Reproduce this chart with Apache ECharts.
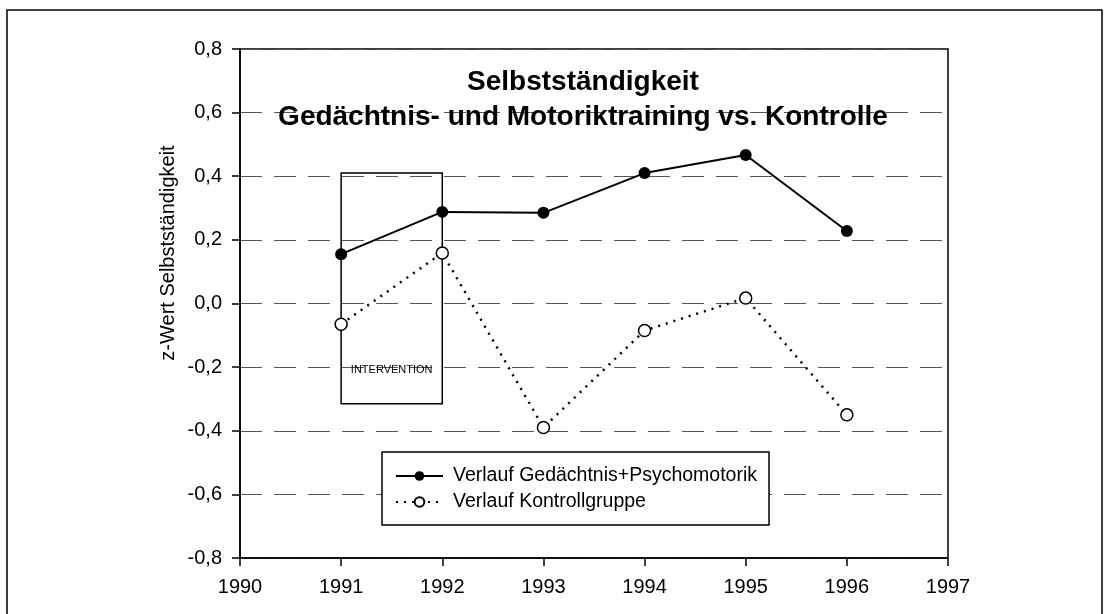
<!DOCTYPE html>
<html>
<head>
<meta charset="utf-8">
<script src="https://cdn.jsdelivr.net/npm/echarts@6/dist/echarts.min.js"></script>
<style>
html,body{margin:0;padding:0;background:#fff;}
#chart{width:1108px;height:614px;}
</style>
</head>
<body>
<div id="chart"></div>
<script>
// ---- data ----
var years = [1991, 1992, 1993, 1994, 1995, 1996];
var trainingValues = [0.155, 0.288, 0.285, 0.41, 0.467, 0.228];
var controlValues = [-0.065, 0.159, -0.39, -0.085, 0.017, -0.35];
var seriesNames = ['Verlauf Gedächtnis+Psychomotorik', 'Verlauf Kontrollgruppe'];
var titleLines = ['Selbstständigkeit', 'Gedächtnis- und Motoriktraining vs. Kontrolle'];
var yAxisTitle = 'z-Wert Selbstständigkeit';
var interventionX = [1991, 1992];
var interventionY = [0.41, -0.315];
var interventionLabel = 'INTERVENTION';
var xRange = [1990, 1997];
var yRange = [-0.8, 0.8];

var FONT = '"Liberation Sans", Arial, sans-serif';

function pairs(xs, ys) { return xs.map(function (x, i) { return [x, ys[i]]; }); }

var chart = echarts.init(document.getElementById('chart'), null, {renderer: 'canvas'});
chart.setOption({
  backgroundColor: '#fff',
  animation: false,
  textStyle: {fontFamily: FONT, color: '#000'},
  title: {
    text: titleLines.join('\n'),
    left: 578,
    top: 60,
    textAlign: 'center',
    textStyle: {fontFamily: FONT, fontSize: 28, fontWeight: 'bold', color: '#000', lineHeight: 35}
  },
  legend: {
    orient: 'vertical',
    left: 382,
    top: 452,
    padding: [14, 12, 13, 13],
    itemGap: 6,
    itemWidth: 47,
    itemHeight: 12,
    borderColor: '#000',
    borderWidth: 1.5,
    backgroundColor: '#fff',
    textStyle: {fontFamily: FONT, fontSize: 19.5, color: '#000', padding: [0, 0, 0, 5]},
    data: seriesNames
  },
  grid: {
    left: 240, right: 160, top: 49, bottom: 56,
    show: true, borderColor: '#000', borderWidth: 1.5, backgroundColor: 'transparent'
  },
  xAxis: {
    type: 'value',
    min: xRange[0], max: xRange[1], interval: 1,
    axisLine: {onZero: false, lineStyle: {color: '#000', width: 1.5}},
    axisTick: {show: true, inside: false, length: 8, lineStyle: {color: '#000', width: 1.5}},
    axisLabel: {
      fontFamily: FONT, fontSize: 20, color: '#000', margin: 19,
      formatter: function (v) { return String(v); }
    },
    splitLine: {show: false}
  },
  yAxis: {
    type: 'value',
    min: yRange[0], max: yRange[1], interval: 0.2,
    axisLine: {show: true, onZero: false, lineStyle: {color: '#000', width: 1.5}},
    axisTick: {show: true, inside: false, length: 8, lineStyle: {color: '#000', width: 1.5}},
    axisLabel: {
      fontFamily: FONT, fontSize: 20, color: '#000', margin: 18,
      formatter: function (v) { return v.toFixed(1).replace('.', ','); }
    },
    splitLine: {show: true, lineStyle: {color: '#555', width: 1, type: [22, 12]}}
  },
  graphic: [
    {
      type: 'rect', silent: true, z: -10,
      shape: {x: 7, y: 10, width: 1095, height: 700},
      style: {fill: 'none', stroke: '#000', lineWidth: 1.5}
    },
    {
      type: 'text', silent: true,
      x: 168, y: 253, rotation: Math.PI / 2,
      style: {text: yAxisTitle, font: '20px ' + FONT, fill: '#000', align: 'center', verticalAlign: 'middle'}
    }
  ],
  series: [
    {
      name: seriesNames[0],
      type: 'line',
      data: pairs(years, trainingValues),
      symbol: 'circle',
      symbolSize: 12,
      itemStyle: {color: '#000'},
      lineStyle: {color: '#000', width: 2},
      z: 3,
      markArea: {
        silent: true,
        itemStyle: {color: 'rgba(0,0,0,0)', borderColor: '#000', borderWidth: 1.5},
        label: {
          show: true, position: 'insideBottom', distance: 29,
          fontFamily: FONT, fontSize: 11, color: '#000'
        },
        data: [[
          {name: interventionLabel, coord: [interventionX[0], interventionY[0]]},
          {coord: [interventionX[1], interventionY[1]]}
        ]]
      }
    },
    {
      name: seriesNames[1],
      type: 'line',
      data: pairs(years, controlValues),
      symbol: 'circle',
      symbolSize: 12,
      itemStyle: {color: '#fff', borderColor: '#000', borderWidth: 1.5},
      lineStyle: {color: '#000', width: 2.5, type: [2, 6]},
      z: 3
    }
  ]
});
</script>
</body>
</html>
